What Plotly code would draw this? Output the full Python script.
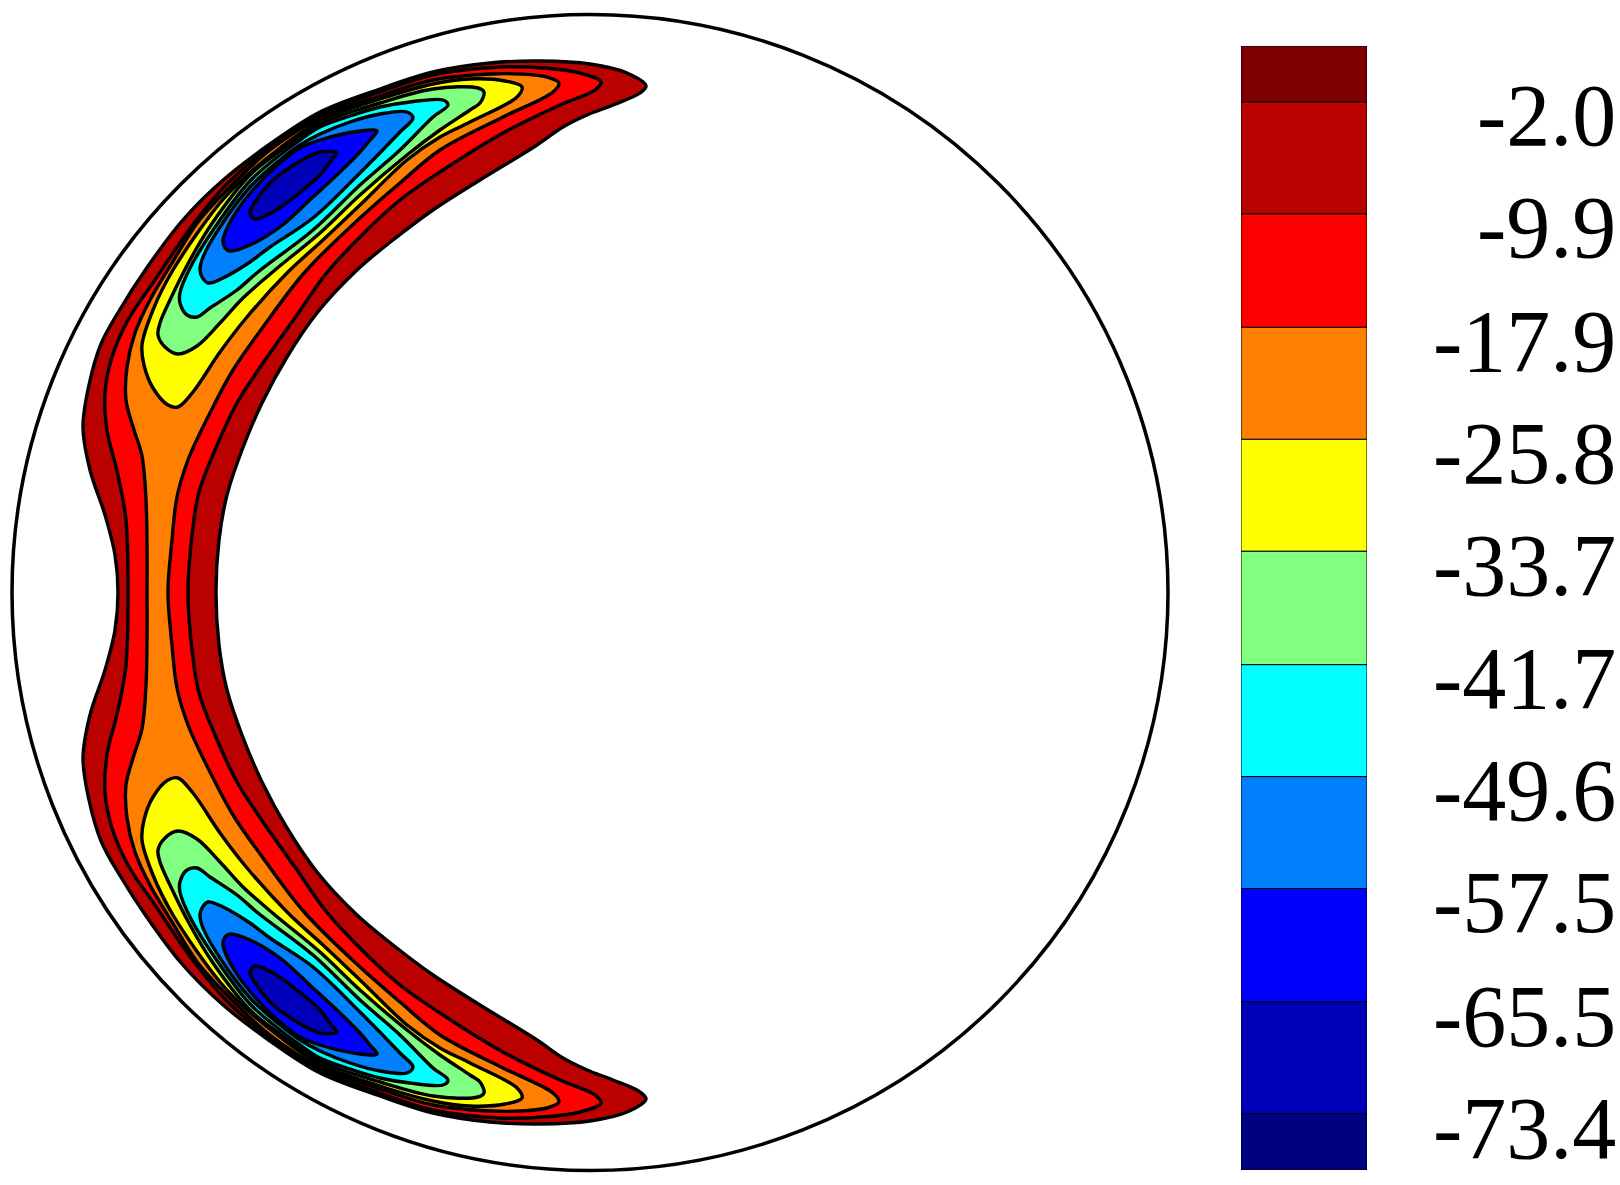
import plotly.graph_objects as go

# contour levels and colourbar
levels = [-2.0, -9.9, -17.9, -25.8, -33.7, -41.7, -49.6, -57.5, -65.5, -73.4]
labels = ["-2.0", "-9.9", "-17.9", "-25.8", "-33.7", "-41.7", "-49.6", "-57.5", "-65.5", "-73.4"]
band_edges = [1.95] + levels + [-77.35]
band_colors = ["#800000", "#BB0000", "#FF0000", "#FF8000", "#FFFF00", "#80FF80",
               "#00FFFF", "#0080FF", "#0000FF", "#0000BB", "#000080"]

MID = 592.5

# outline of each contour level, upper half: outer side from tip to the symmetry line, inner side back
l1_outer_x = [646, 627, 590, 540, 490, 433, 380, 320, 270, 222, 182, 146, 119, 101, 89, 83, 90, 105, 115, 118]
l1_outer_y = [86, 73, 64, 61, 63, 72, 89, 112, 144, 181, 221, 269, 311, 344, 385, 427, 470, 515, 555, 592.5]
l1_inner_x = [216, 219, 227, 242, 262, 287, 317, 357, 393, 433, 480, 537, 563, 587, 613, 640]
l1_inner_y = [592.5, 540, 495, 450, 403, 357, 313, 270, 240, 210, 180, 145, 127, 115, 105, 93]

l2_outer_x = [601, 580, 543, 500, 433, 380, 320, 270, 225, 192, 155, 128, 112, 105, 107, 118, 126, 128]
l2_outer_y = [82, 73, 68, 67, 75, 92, 115, 147, 186, 226, 280, 320, 357, 393, 430, 475, 520, 592.5]
l2_inner_x = [188, 192, 199, 215, 237, 263, 297, 325, 360, 400, 443, 503, 560, 595]
l2_inner_y = [592.5, 535, 492, 450, 403, 363, 315, 275, 237, 200, 170, 133, 105, 90]

l3_outer_x = [559, 547, 520, 490, 433, 380, 320, 270, 227, 198, 172, 150, 135, 127, 126, 134, 142, 146, 147, 147]
l3_outer_y = [83, 77, 74, 74, 80, 96, 118, 150, 190, 222, 263, 300, 333, 367, 400, 430, 456, 500, 545, 592.5]
l3_inner_x = [168, 172, 177, 188, 210, 233, 263, 305, 360, 400, 440, 503, 553]
l3_inner_y = [592.5, 540, 497, 460, 413, 370, 327, 272, 218, 183, 150, 117, 92]

l4_x = [522, 505, 470, 433, 380, 320, 280, 245, 220, 173, 153, 142, 144, 153, 168, 178, 193, 220, 247, 288, 323, 360, 407, 440, 470, 517]
l4_y = [87, 81, 79, 84, 99, 121, 148, 177, 203, 270, 310, 345, 365, 388, 405, 407, 392, 352, 317, 272, 240, 205, 160, 137, 122, 97]

l5_x = [484, 478, 433, 380, 320, 280, 250, 213, 190, 170, 160, 158, 165, 178, 197, 220, 243, 275, 320, 360, 407, 440, 470, 480]
l5_y = [92, 88, 89, 103, 124, 151, 175, 222, 260, 300, 323, 335, 347, 354, 346, 323, 298, 270, 233, 195, 155, 130, 110, 103]

l6_x = [448, 443, 410, 380, 350, 320, 300, 280, 250, 220, 190, 180, 180, 187, 197, 210, 237, 258, 313, 360, 400, 433]
l6_y = [105, 100, 102, 107, 116, 127, 140, 155, 181, 220, 268, 293, 303, 315, 317, 308, 290, 272, 230, 185, 150, 117]

l7_x = [413, 407, 380, 350, 320, 300, 280, 250, 220, 203, 200, 202, 208, 223, 250, 270, 313, 360, 400]
l7_y = [118, 112, 114, 122, 134, 145, 160, 187, 227, 257, 270, 277, 283, 278, 262, 247, 218, 173, 132]

l8_x = [377, 360, 320, 300, 280, 253, 233, 223, 225, 230, 250, 280, 313, 340, 360, 370]
l8_y = [131, 131, 140, 148, 163, 190, 217, 240, 248, 251, 245, 227, 197, 172, 152, 140]

l9_x = [337, 320, 297, 270, 255, 250, 255, 273, 297, 320, 333]
l9_y = [153, 152, 163, 183, 202, 213, 219, 212, 195, 175, 158]

crescents = [(l1_outer_x, l1_outer_y, l1_inner_x, l1_inner_y, band_colors[1]),
             (l2_outer_x, l2_outer_y, l2_inner_x, l2_inner_y, band_colors[2]),
             (l3_outer_x, l3_outer_y, l3_inner_x, l3_inner_y, band_colors[3])]
blobs = [(l4_x, l4_y, band_colors[4]), (l5_x, l5_y, band_colors[5]), (l6_x, l6_y, band_colors[6]),
         (l7_x, l7_y, band_colors[7]), (l8_x, l8_y, band_colors[8]), (l9_x, l9_y, band_colors[9])]


def mirror(ys):
    return [2 * MID - v for v in ys]


fig = go.Figure()


def add_poly(xs, ys, color):
    fig.add_trace(go.Scatter(x=xs + xs[:1], y=ys + ys[:1], mode="lines", fill="toself", fillcolor=color,
                             line=dict(color="black", width=3.4, shape="spline", smoothing=1.0),
                             hoverinfo="skip", showlegend=False, xaxis="x", yaxis="y"))


for ox, oy, ix, iy, col in crescents:
    xs = ox + ox[::-1][1:] + ix[::-1] + ix[1:]
    ys = oy + mirror(oy[::-1])[1:] + mirror(iy[::-1]) + iy[1:]
    add_poly(xs, ys, col)

for bx, by, col in blobs:
    add_poly(bx, by, col)
    add_poly(bx, mirror(by), col)

# colourbar
for i, col in enumerate(band_colors):
    fig.add_trace(go.Bar(x=[0], y=[band_edges[i] - band_edges[i + 1]], base=[band_edges[i + 1]], width=[1],
                         marker=dict(color=col, line=dict(color="black", width=1)),
                         hoverinfo="skip", showlegend=False, xaxis="x2", yaxis="y2"))

for lv, lb in zip(levels, labels):
    fig.add_annotation(x=1618 / 1620, xref="paper", xanchor="right", y=lv, yref="y2", yanchor="middle",
                       yshift=-14, text=lb, showarrow=False,
                       font=dict(family="Liberation Serif", size=88, color="black"))

fig.add_shape(type="circle", xref="x", yref="y", x0=12, x1=1168, y0=14.5, y1=1170.5,
              line=dict(color="black", width=3.5), fillcolor="rgba(0,0,0,0)")

fig.update_layout(
    width=1620, height=1185, margin=dict(l=0, r=0, t=0, b=0), autosize=False,
    paper_bgcolor="white", plot_bgcolor="rgba(0,0,0,0)", barmode="overlay",
    xaxis=dict(domain=[0, 1], range=[0, 1620], visible=False),
    yaxis=dict(domain=[0, 1], range=[1185, 0], visible=False),
    xaxis2=dict(domain=[1241 / 1620, 1367 / 1620], range=[-0.5, 0.5], visible=False, anchor="y2"),
    yaxis2=dict(domain=[15 / 1185, 1139 / 1185], range=[band_edges[-1], band_edges[0]], visible=False, anchor="x2"),
)

fig.write_html("out.html", config=dict(displayModeBar=False),
               post_script="document.body.style.margin='0';document.documentElement.style.overflow='hidden';")
